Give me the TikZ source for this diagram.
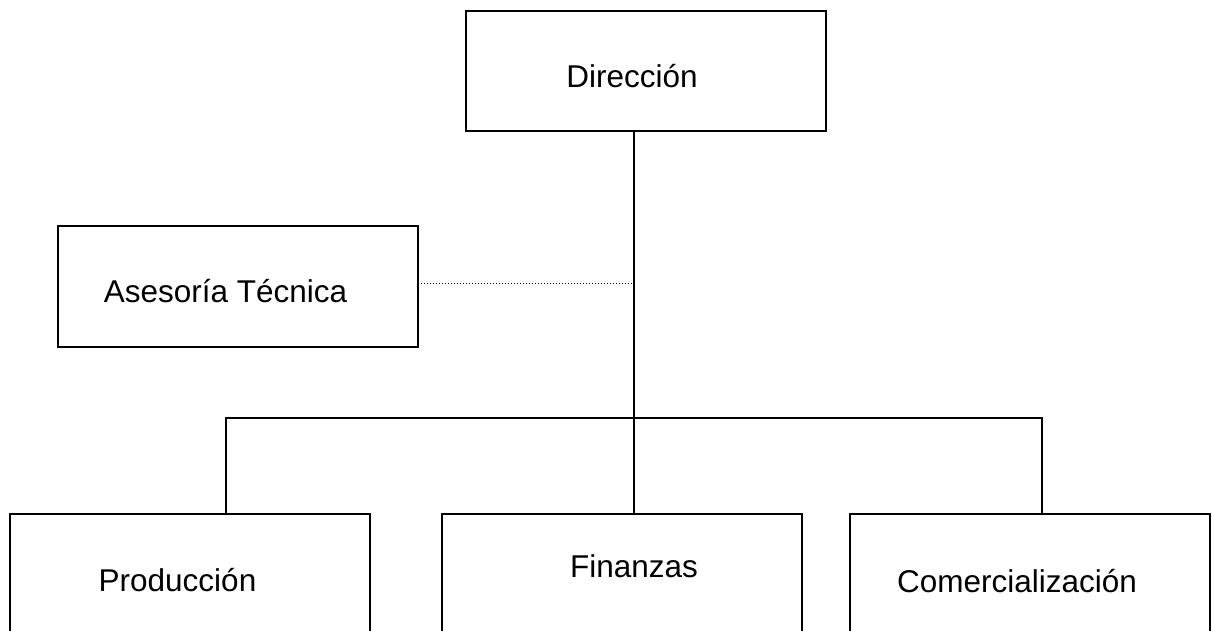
\documentclass[tikz,border=0pt]{standalone}
\usepackage{fontspec}
\setmainfont{Liberation Sans}
\usetikzlibrary{positioning}

\begin{document}
\begin{tikzpicture}[x=0.5pt, y=-0.5pt,
        caja/.style={draw, line width=0.9pt, anchor=north west, inner sep=0pt, outer sep=0pt,
            minimum width=180pt, text height=38.5pt, text depth=21.5pt,
            font=\fontsize{15.75pt}{18pt}\selectfont},
        linea/.style={line width=0.9pt}]
        \useasboundingbox (0,0) rectangle (1212,631);

        % Direccion
        \node[caja] (dir) at (466,11) {\hspace*{-14pt}Dirección};

        % Asesoria
        \node[caja, text depth=22pt] (ase) at (58,226) {\hspace*{-12.5pt}Asesoría Técnica};

        % Departamentos
        \node[caja, text depth=40pt] (pro) at (10,514) {\hspace*{-12.5pt}Producción};
        \node[caja, text height=31.5pt, text depth=47pt] (fin) at (442,514) {Finanzas\hspace*{-12pt}};
        \node[caja, text height=39pt, text depth=40pt] (com) at (850,514) {\hspace*{-13pt}Comercialización};

        % Conexiones
        \coordinate (bus) at (634,418);
        \coordinate (busL) at (226,418);
        \coordinate (busR) at (1042,418);
        \coordinate (ase-r) at ([yshift=1.5pt]ase.east);
        \draw[linea] (dir.south -| bus) -- (fin.north -| bus);
        \draw[linea] (pro.north -| busL) -- (busL) -- (busR) -- (com.north -| busR);
        \draw[densely dotted, line width=0.5pt] (ase-r) -- (ase-r -| bus);
    \end{tikzpicture}
\end{document}
